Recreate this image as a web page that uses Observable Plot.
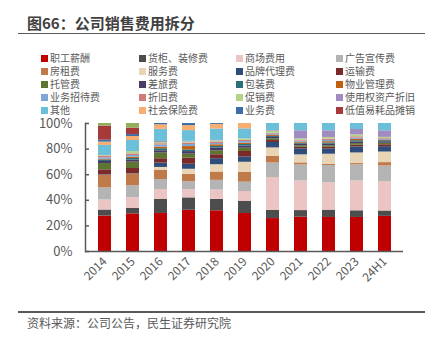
<!DOCTYPE html>
<html><head><meta charset="utf-8">
<script src="https://cdn.jsdelivr.net/npm/d3@7"></script>
<script src="https://cdn.jsdelivr.net/npm/@observablehq/plot@0.6"></script>
<style>
body{margin:0;background:#fff;font-family:"Noto Sans CJK SC","Noto Sans",sans-serif;}
#wrap{position:relative;width:429px;height:339px;overflow:hidden;background:#fff;}
#title{position:absolute;left:27px;top:13px;font-size:15px;font-weight:bold;color:#404040;line-height:20px;white-space:nowrap;}
.hr{position:absolute;left:18px;width:407px;height:1.5px;background:#595959;}
#chart{position:absolute;left:0;top:0;}
#legend{position:absolute;left:0;top:0;width:429px;height:118px;}
.li{position:absolute;font-size:10px;color:#595959;line-height:12px;height:12px;white-space:nowrap;display:flex;align-items:center;}
.sw{width:7px;height:7px;margin-right:2px;display:inline-block;flex:none;}
#source{position:absolute;left:27px;top:315px;font-size:12px;color:#595959;line-height:16px;white-space:nowrap;}
</style></head><body>
<div id="wrap">
  <div id="title">图66：公司销售费用拆分</div>
  <div class="hr" style="top:32.5px"></div>
  <div id="chart"></div>
  <div id="legend"></div>
  <div class="hr" style="top:311px"></div>
  <div id="source">资料来源：公司公告，民生证券研究院</div>
</div>
<script>
const years = ["2014","2015","2016","2017","2018","2019","2020","2021","2022","2023","24H1"];
const seriesNames = ["职工薪酬","货柜、装修费","商场费用","广告宣传费","房租费","服务费","品牌代理费","运输费","托管费","差旅费","包装费","物业管理费","业务招待费","折旧费","促销费","使用权资产折旧","其他","社会保险费","业务费","低值易耗品摊销","其他费用"];
const legendNames = seriesNames.slice(0, 20);
const colors = ["#C00000","#4D4D4D","#EBC4C4","#B4B4B4","#C07A4A","#E8D5B5","#2E4D7A","#7B2A2A","#5E7431","#4A3A66","#2A6E7A","#C0600F","#7FA6D6","#D07A7A","#B4D28A","#A08CC0","#6BBFD8","#F8AE70","#3B6EAA","#A63A3A","#8FAF5A"];
const tickValues = [0, 20, 40, 60, 80, 100];

const v职工薪酬 = [27.6, 29.2, 29.7, 32.0, 31.8, 29.7, 25.5, 26.8, 26.6, 26.6, 27.6];
const v货柜装修费 = [4.7, 4.2, 10.9, 9.6, 8.9, 9.4, 6.3, 5.2, 5.7, 5.2, 4.2];
const v商场费用 = [7.8, 8.3, 7.8, 6.3, 7.3, 7.8, 25.5, 23.2, 21.4, 23.4, 22.9];
const v广告宣传费 = [9.4, 9.4, 7.8, 6.3, 7.6, 7.3, 11.2, 12.5, 13.5, 12.5, 12.5];
const v房租费 = [9.9, 9.1, 7.3, 5.7, 6.5, 7.8, 5.2, 1.6, 1.0, 1.0, 2.6];
const v服务费 = [0, 0, 2.1, 3.9, 5.7, 7.8, 6.5, 6.3, 7.8, 8.3, 8.3];
const v品牌代理费 = [0.3, 0.3, 3.4, 3.9, 4.7, 4.2, 4.2, 4.7, 4.2, 4.7, 4.2];
const v运输费 = [3.9, 3.9, 3.4, 4.7, 3.1, 4.2, 1.5, 1.2, 1.2, 1.3, 1.5];
const v托管费 = [4.9, 4.9, 4.4, 3.1, 3.1, 2.6, 1.2, 1.2, 1.2, 1.3, 1.2];
const v差旅费 = [1.6, 1.6, 1.8, 2.0, 2.1, 1.6, 1.2, 1.2, 1.2, 1.3, 1.2];
const v包装费 = [1.2, 1.3, 1.6, 1.3, 1.3, 1.3, 0.8, 0.8, 1.0, 1.0, 0.8];
const v物业管理费 = [0.5, 1.0, 1.3, 2.6, 1.3, 1.0, 0.8, 0.8, 1.0, 1.0, 0.6];
const v业务招待费 = [1.2, 1.3, 1.6, 1.6, 1.0, 1.3, 1.0, 0.8, 1.0, 1.0, 0.6];
const v折旧费 = [1.3, 1.2, 1.0, 1.0, 1.1, 1.0, 0.6, 0.8, 1.0, 1.0, 0.6];
const v促销费 = [0.5, 1.8, 1.0, 1.0, 1.0, 1.1, 1.6, 1.0, 1.3, 1.5, 0.8];
const v使用权资产折旧 = [0, 0, 0.8, 0.5, 0.3, 0, 0.5, 6.3, 5.2, 4.2, 5.2];
const v其他 = [7.8, 8.6, 9.4, 8.3, 8.9, 7.8, 5.5, 5.7, 5.7, 4.7, 5.7];
const v社会保险费 = [2.6, 3.1, 3.6, 3.9, 3.6, 4.2, 0, 0, 0, 0, 0];
const v业务费 = [1.5, 1.5, 1.0, 1.6, 0.7, 0, 0, 0, 0, 0, 0];
const v低值易耗品摊销 = [11.0, 5.0, 0, 0, 0, 0, 0, 0, 0, 0, 0];
const v其他费用 = [2.0, 3.6, 0, 0, 0, 0, 0, 0, 0, 0, 0];

const seriesValues = [v职工薪酬, v货柜装修费, v商场费用, v广告宣传费, v房租费, v服务费, v品牌代理费, v运输费, v托管费, v差旅费, v包装费, v物业管理费, v业务招待费, v折旧费, v促销费, v使用权资产折旧, v其他, v社会保险费, v业务费, v低值易耗品摊销, v其他费用];

const data = [];
seriesNames.forEach((s, i) => years.forEach((y, j) => data.push({series: s, year: y, value: seriesValues[i][j]})));

const font = '"Noto Sans CJK SC","Noto Sans",sans-serif';
const chart = Plot.plot({
  width: 429, height: 300,
  marginTop: 123, marginBottom: 49, marginLeft: 85, marginRight: 26,
  style: {fontFamily: font, color: "#595959", background: "transparent"},
  x: {domain: years, paddingInner: 0.55, paddingOuter: 0.26, label: null},
  y: {domain: [0, 100], percent: true, label: null},
  color: {domain: seriesNames, range: colors},
  marks: [
    Plot.barY(data, {x: "year", y: "value", fill: "series", order: seriesNames, offset: "normalize"}),
    Plot.axisY({ticks: tickValues, tickSize: 0, tickPadding: 13, tickFormat: d => d + "%", fontSize: 13, fill: "#595959"}),
    Plot.axisY({ticks: tickValues, tickSize: 4, dx: 4, text: null, stroke: "#595959", strokeWidth: 1.5}),
    Plot.axisX({tickSize: 0, tickRotate: -45, tickPadding: 8, fontSize: 12, fill: "#595959"}),
    Plot.ruleY([0], {stroke: "#595959", strokeWidth: 1.5}),
    Plot.frame({anchor: "left", stroke: "#595959", strokeWidth: 1.5})
  ]
});
document.getElementById("chart").appendChild(chart);

const legend = document.getElementById("legend");
const colX = [41, 139, 236, 336];
legendNames.forEach((name, i) => {
  const col = i % 4, row = Math.floor(i / 4);
  const el = document.createElement("div");
  el.className = "li";
  el.style.left = colX[col] + "px";
  el.style.top = (52 + row * 13) + "px";
  const sw = document.createElement("span");
  sw.className = "sw";
  sw.style.background = colors[seriesNames.indexOf(name)];
  el.appendChild(sw);
  el.appendChild(document.createTextNode(name));
  legend.appendChild(el);
});
</script>
</body></html>
